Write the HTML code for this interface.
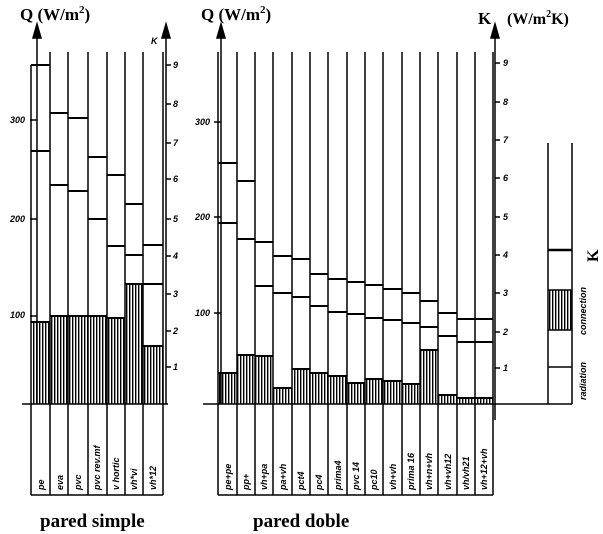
<!DOCTYPE html>
<html><head><meta charset="utf-8"><style>
body{margin:0;background:#fff}
svg{display:block}
.h{font-family:"Liberation Sans",sans-serif;font-style:italic;font-weight:bold;font-size:9px}
.t{font-family:"Liberation Serif",serif;font-weight:bold}
</style></head><body>
<svg width="603" height="534" viewBox="0 0 603 534" xmlns="http://www.w3.org/2000/svg">
<defs>
<pattern id="hp" width="3" height="10" patternUnits="userSpaceOnUse">
<rect width="1.4" height="10" fill="#000"/></pattern>
</defs>
<g stroke="#000" fill="none" stroke-width="1.5">
<!-- left chart hatched -->
<rect x="31" y="322" width="19" height="82" fill="url(#hp)" stroke="none"/>
<rect x="50" y="316" width="18" height="88" fill="url(#hp)" stroke="none"/>
<rect x="68" y="316" width="20" height="88" fill="url(#hp)" stroke="none"/>
<rect x="88" y="316" width="19" height="88" fill="url(#hp)" stroke="none"/>
<rect x="107" y="318" width="18" height="86" fill="url(#hp)" stroke="none"/>
<rect x="125" y="284" width="18" height="120" fill="url(#hp)" stroke="none"/>
<rect x="143" y="346" width="20" height="58" fill="url(#hp)" stroke="none"/>
<!-- left verticals -->
<path d="M31 65V495M50 52V495M68 52V495M88 52V495M107 52V495M125 52V495M143 52V495M163 52V495"/>
<!-- left horizontals -->
<path d="M31 322H50M31 151H50M31 65H50 M50 316H68M50 185H68M50 113H68 M68 316H88M68 191H88M68 118H88 M88 316H107M88 219H107M88 157H107 M107 318H125M107 246H125M107 175H125 M125 284H143M125 255H143M125 204H143 M143 346H163M143 284H163M143 245H163" stroke-width="2"/>
<!-- left axes -->
<path d="M37 404V30M22 404H168M166 404V28M31 495H163"/>
<path d="M33 38L37 24L41 38Z M162 38L166 24L170 38Z" fill="#000"/>
<path d="M30 120H37M30 219H37M30 316H37"/>
<path d="M166 65H171M166 104H171M166 143H171M166 179H171M166 219H171M166 256H171M166 294H171M166 331H171M166 367H171"/>

<!-- middle hatched -->
<g stroke="none" fill="url(#hp)">
<rect x="218" y="373" width="19" height="31"/>
<rect x="237" y="355" width="18" height="49"/>
<rect x="255" y="356" width="18" height="48"/>
<rect x="273" y="388" width="19" height="16"/>
<rect x="292" y="369" width="18" height="35"/>
<rect x="310" y="373" width="18" height="31"/>
<rect x="328" y="376" width="19" height="28"/>
<rect x="347" y="383" width="18" height="21"/>
<rect x="365" y="379" width="18" height="25"/>
<rect x="383" y="381" width="19" height="23"/>
<rect x="402" y="384" width="18" height="20"/>
<rect x="420" y="350" width="18" height="54"/>
<rect x="438" y="395" width="19" height="9"/>
<rect x="457" y="398" width="36" height="6"/>
</g>
<path d="M218 52V495M237 52V495M255 52V495M273 52V495M292 52V495M310 52V495M328 52V495M347 52V495M365 52V495M383 52V495M402 52V495M420 52V495M438 52V495M457 52V495M475 52V495M493 52V495"/>
<path stroke-width="2" d="M218 373H237M218 223H237M218 163H237 M237 355H255M237 239H255M237 181H255 M255 356H273M255 286H273M255 242H273 M273 388H292M273 293H292M273 256H292 M292 369H310M292 297H310M292 259H310 M310 373H328M310 306H328M310 274H328 M328 376H347M328 312H347M328 279H347 M347 383H365M347 314H365M347 282H365 M365 379H383M365 318H383M365 285H383 M383 381H402M383 320H402M383 289H402 M402 384H420M402 323H420M402 293H420 M420 350H438M420 327H438M420 301H438 M438 395H457M438 336H457M438 313H457 M457 398H493M457 342H493M457 319H493"/>
<path d="M221 404V28M203 404H548M495 420V28M218 495H493"/>
<path d="M217 38L221 24L225 38Z M491 38L495 24L499 38Z" fill="#000"/>
<path d="M214 122H221M214 217H221M214 313H221"/>
<path d="M495 63H500M495 102H500M495 140H500M495 178H500M495 217H500M495 255H500M495 293H500M495 332H500M495 368H500"/>

<!-- legend -->
<rect x="548" y="290" width="24" height="40" fill="url(#hp)" stroke="none"/>
<path d="M548 143V404M572 143V404M548 404H572M548 367H572M548 330H572M548 290H572"/>
<path d="M548 250H572" stroke-width="2.5"/>
</g>

<g class="h">
<text x="10" y="123">300</text><text x="10" y="222">200</text><text x="10" y="318">100</text>
<text x="195" y="125">300</text><text x="195" y="220">200</text><text x="195" y="316">100</text>
<text x="151" y="44">K</text>
<text x="173" y="68">9</text><text x="173" y="107">8</text><text x="173" y="146">7</text><text x="173" y="182">6</text><text x="173" y="222">5</text><text x="173" y="259">4</text><text x="173" y="297">3</text><text x="173" y="334">2</text><text x="173" y="370">1</text>
<text x="503" y="66">9</text><text x="503" y="105">8</text><text x="503" y="143">7</text><text x="503" y="181">6</text><text x="503" y="220">5</text><text x="503" y="258">4</text><text x="503" y="296">3</text><text x="503" y="335">2</text><text x="503" y="371">1</text>
</g>
<g class="h" font-size="8">
<text transform="translate(44,490) rotate(-90)">pe</text>
<text transform="translate(63,490) rotate(-90)">eva</text>
<text transform="translate(81,490) rotate(-90)">pvc</text>
<text transform="translate(100,490) rotate(-90)">pvc rev.mf</text>
<text transform="translate(119,490) rotate(-90)">v hortic</text>
<text transform="translate(137,490) rotate(-90)">vh*vi</text>
<text transform="translate(156,490) rotate(-90)">vh*12</text>
<text transform="translate(231,490) rotate(-90)">pe+pe</text>
<text transform="translate(249,490) rotate(-90)">pp+</text>
<text transform="translate(267,490) rotate(-90)">vh+pa</text>
<text transform="translate(286,490) rotate(-90)">pa+vh</text>
<text transform="translate(304,490) rotate(-90)">pct4</text>
<text transform="translate(322,490) rotate(-90)">pc4</text>
<text transform="translate(341,490) rotate(-90)">prima4</text>
<text transform="translate(359,490) rotate(-90)">pvc 14</text>
<text transform="translate(377,490) rotate(-90)">pc10</text>
<text transform="translate(396,490) rotate(-90)">vh+vh</text>
<text transform="translate(414,490) rotate(-90)">prima 16</text>
<text transform="translate(432,490) rotate(-90)">vh+n+vh</text>
<text transform="translate(451,490) rotate(-90)">vh+vh12</text>
<text transform="translate(469,490) rotate(-90)">vh/vh21</text>
<text transform="translate(487,490) rotate(-90)">vh+12+vh</text>
<text transform="translate(586,400) rotate(-90)">radiation</text>
<text transform="translate(586,335) rotate(-90)">connection</text>
</g>
<g class="t">
<text x="20" y="20" font-size="17">Q (W/m<tspan font-size="11" dy="-7">2</tspan><tspan dy="7">)</tspan></text>
<text x="201" y="20" font-size="17">Q (W/m<tspan font-size="11" dy="-7">2</tspan><tspan dy="7">)</tspan></text>
<text x="478" y="24" font-size="17">K</text>
<text x="507" y="24" font-size="16">(W/m<tspan font-size="10" dy="-7">2</tspan><tspan dy="7">K)</tspan></text>
<text transform="translate(598,262) rotate(-90)" font-size="16">K</text>
<text x="40" y="527" font-size="19">pared simple</text>
<text x="253" y="527" font-size="19">pared doble</text>
</g>
</svg>
</body></html>
